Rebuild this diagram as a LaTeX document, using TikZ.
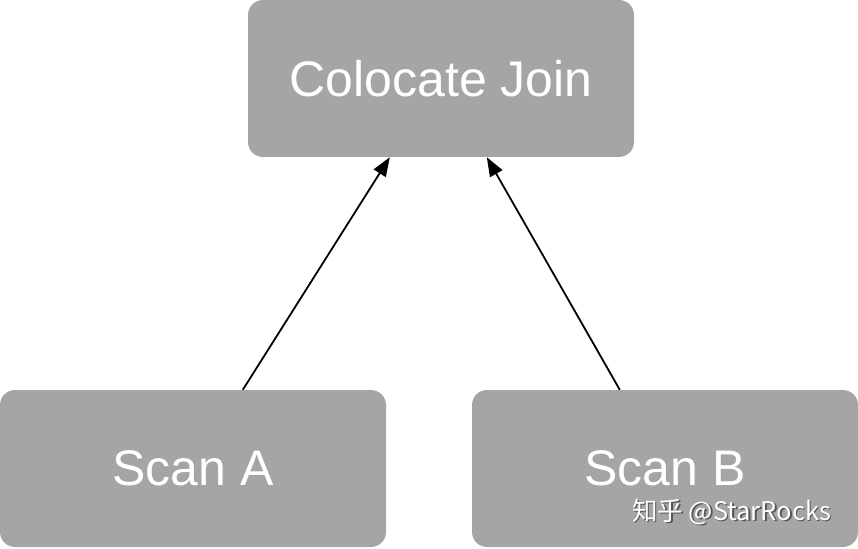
\documentclass[tikz,border=0pt]{standalone}
\usepackage{fontspec}
\setmainfont{Liberation Sans}
\newfontfamily\cjk{Noto Sans CJK SC}
\usetikzlibrary{arrows.meta,calc}
\definecolor{boxgray}{HTML}{A5A5A5}
\definecolor{shadowgray}{HTML}{555555}
\tikzset{
  opbox/.style={rectangle, rounded corners=15pt, fill=boxgray, draw=none,
    text=white, font=\fontsize{50}{60}\selectfont, inner sep=0pt,
    minimum width=386pt, minimum height=157pt},
  flow/.style={-{Triangle[length=19pt,width=14pt]}, line width=1.8pt, black},
  wmark/.style={font=\cjk\fontsize{25.5}{30}\selectfont, inner sep=0pt, anchor=base west}
}
\begin{document}
\begin{tikzpicture}[x=1pt,y=-1pt]
\useasboundingbox (0,0) rectangle (858,548);
\node[opbox] (join) at (441,78.5) {Colocate Join};
\node[opbox] (scanA) at (193,468.5) {Scan A};
\node[opbox] (scanB) at (665,468.5) {Scan B};
\coordinate (aS) at ($(scanA.north west)+(243,0)$);
\coordinate (aE) at ($(join.south west)+(142,0)$);
\coordinate (bS) at ($(scanB.north west)+(148,0)$);
\coordinate (bE) at ($(join.south west)+(239,0)$);
\draw[flow] (aS) -- (aE);
\draw[flow] (bS) -- (bE);
\node[wmark, text=shadowgray] (wmshadow) at (633.5,521.5) {知乎 @StarRocks};
\node[wmark, text=white] (wm) at (632,520) {知乎 @StarRocks};
\end{tikzpicture}
\end{document}
